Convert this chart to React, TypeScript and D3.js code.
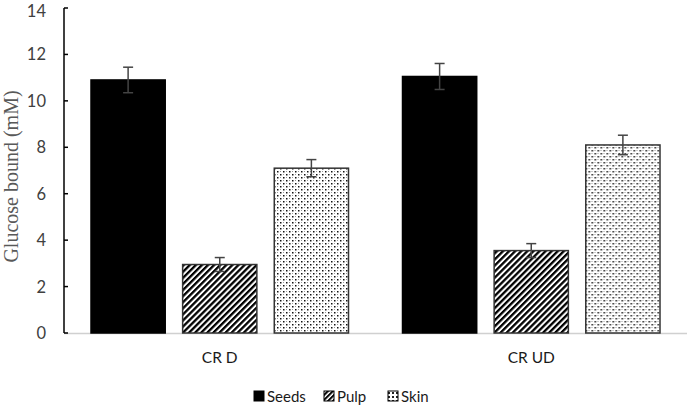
import React from "react";
import * as d3 from "d3";

const categories = ["CR D", "CR UD"];
const seriesNames = ["Seeds", "Pulp", "Skin"];
const seedsValues = [10.9, 11.05];
const pulpValues = [2.95, 3.55];
const skinValues = [7.1, 8.1];
const seedsErr = [0.55, 0.56];
const pulpErr = [0.3, 0.3];
const skinErr = [0.37, 0.42];
const yTicks = [0, 2, 4, 6, 8, 10, 12, 14];

const W = 688;
const H = 413;
const SANS = "Lato, 'Open Sans', 'Liberation Sans', sans-serif";

export default function App() {
  const left = 64;
  const right = 687;
  const top = 8;
  const bottom = 333;

  const y = d3.scaleLinear().domain([0, 14]).range([bottom, top]);
  const x0 = d3.scaleBand().domain(categories).range([left, right]).paddingInner(0).paddingOuter(0);
  const x1 = d3
    .scaleBand()
    .domain(seriesNames)
    .range([27, x0.bandwidth() - 27])
    .paddingInner(0.19)
    .paddingOuter(0);

  const values = [seedsValues, pulpValues, skinValues];
  const errs = [seedsErr, pulpErr, skinErr];
  const fills = ["#000000", "url(#stripe)", "url(#dots)"];

  const legendItems = [
    { name: "Seeds", x: 254 },
    { name: "Pulp", x: 324 },
    { name: "Skin", x: 388 },
  ];

  return (
    <svg width={W} height={H} style={{ position: "absolute", left: 0, top: 0, background: "#fff" }}>
      <defs>
        <pattern id="stripe" patternUnits="userSpaceOnUse" width="4.3" height="4.3" patternTransform="rotate(45)">
          <rect width="4.3" height="4.3" fill="#fff" />
          <rect width="2.3" height="4.3" fill="#000" />
        </pattern>
        <pattern id="dots" patternUnits="userSpaceOnUse" width="6" height="6">
          <rect width="6" height="6" fill="#fff" />
          <rect x="0" y="0" width="1.5" height="1.5" fill="#111" />
          <rect x="3" y="3" width="1.5" height="1.5" fill="#111" />
          <rect x="3" y="0" width="1" height="1" fill="#999" />
          <rect x="0" y="3" width="1" height="1" fill="#999" />
        </pattern>
        <pattern id="stripeL" patternUnits="userSpaceOnUse" width="3.5" height="3.5" patternTransform="rotate(45)">
          <rect width="3.5" height="3.5" fill="#fff" />
          <rect width="2" height="3.5" fill="#000" />
        </pattern>
        <pattern id="dotsL" patternUnits="userSpaceOnUse" width="4" height="4">
          <rect width="4" height="4" fill="#fff" />
          <rect x="0" y="0" width="2" height="2" fill="#222" />
        </pattern>
      </defs>

      {/* x axis baseline */}
      <line x1={left} x2={right} y1={bottom + 0.5} y2={bottom + 0.5} stroke="#d0d0d0" strokeWidth={1.5} />

      {/* bars */}
      {categories.map((c, ci) => (
        <g key={c} transform={`translate(${x0(c)},0)`}>
          {seriesNames.map((s, si) => {
            const v = values[si][ci];
            const e = errs[si][ci];
            const bx = x1(s)!;
            const bw = x1.bandwidth();
            const cx = bx + bw / 2;
            return (
              <g key={s}>
                <rect
                  x={bx}
                  y={y(v)}
                  width={bw}
                  height={bottom - y(v)}
                  fill={fills[si]}
                  stroke={si === 0 ? "#000" : "#333"}
                  strokeWidth={1.5}
                />
                <line x1={cx} x2={cx} y1={y(v + e)} y2={y(v - e)} stroke="#444" strokeWidth={1.5} />
                <line x1={cx - 5} x2={cx + 5} y1={y(v + e)} y2={y(v + e)} stroke="#444" strokeWidth={1.5} />
                <line x1={cx - 5} x2={cx + 5} y1={y(v - e)} y2={y(v - e)} stroke="#444" strokeWidth={1.5} />
              </g>
            );
          })}
          <text
            x={x0.bandwidth() / 2}
            y={363}
            textAnchor="middle"
            fontFamily={SANS}
            fontSize={15.5}
            fill="#1a1a1a"
          >
            {c}
          </text>
        </g>
      ))}

      {/* y axis */}
      <line x1={left} x2={left} y1={top} y2={bottom} stroke="#000" strokeWidth={1.5} />
      {yTicks.map((t) => (
        <g key={t}>
          <line x1={left} x2={left + 4} y1={y(t)} y2={y(t)} stroke="#000" strokeWidth={1.5} />
          <text
            x={46}
            y={Math.max(y(t), 11)}
            dy="0.36em"
            textAnchor="end"
            fontFamily={SANS}
            fontSize={16.5}
            fill="#404040"
          >
            {t}
          </text>
        </g>
      ))}
      <text
        transform={`translate(18,${(top + bottom) / 2 + 6}) rotate(-90)`}
        textAnchor="middle"
        fontFamily="'Liberation Serif', 'Times New Roman', serif"
        fontSize={20}
        fill="#595959"
      >
        Glucose bound (mM)
      </text>

      {/* legend */}
      {legendItems.map((it, i) => (
        <g key={it.name}>
          <rect
            x={it.x}
            y={391}
            width={10}
            height={10}
            fill={i === 0 ? "#000" : i === 1 ? "url(#stripeL)" : "url(#dotsL)"}
            stroke="#000"
            strokeWidth={1}
          />
          <text
            x={it.x + 13}
            y={402}
            fontFamily={SANS}
            fontSize={15}
            fill="#1a1a1a"
          >
            {it.name}
          </text>
        </g>
      ))}
    </svg>
  );
}
